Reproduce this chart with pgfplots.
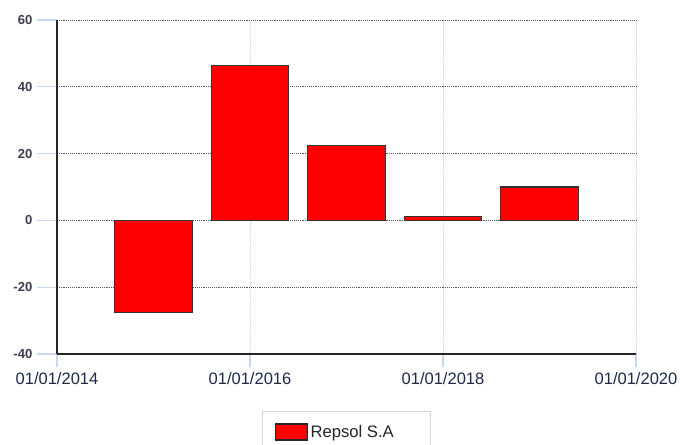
\documentclass[border=0pt]{standalone}
\usepackage{fontspec}
\setmainfont{Liberation Sans}
\usepackage{pgfplots}
\pgfplotsset{compat=1.18}
\definecolor{tickblue}{RGB}{200,216,240}
\definecolor{xlab}{RGB}{30,40,72}
\definecolor{ylab}{RGB}{60,60,82}
\definecolor{hgrid}{RGB}{90,90,90}
\definecolor{legborder}{RGB}{215,215,215}
\begin{document}
\begin{tikzpicture}
\begin{axis}[
  name=ax,
  at={(0,0)}, anchor=south west,
  scale only axis,
  width=434.25pt, height=250.5pt,
  xmin=2014, xmax=2020,
  ymin=-40, ymax=60,
  xtick={2014,2016,2018,2020},
  xticklabels={01/01/2014,01/01/2016,01/01/2018,01/01/2020},
  ytick={-40,-20,0,20,40,60},
  yticklabels={-40,-20,0,20,40,60},
  axis x line*=bottom, axis y line*=left,
  axis line style={line width=0.9pt, draw=black!85},
  tick align=outside,
  major tick length=15pt,
  x tick style={draw=tickblue, line width=0.8pt, /pgfplots/major tick length=9.75pt},
  y tick style={draw=tickblue, line width=0.8pt},
  xmajorgrids, ymajorgrids,
  x grid style={draw=tickblue, densely dotted, line width=0.6pt},
  y grid style={draw=hgrid, densely dotted, line width=0.6pt},
  xticklabel style={font=\fontsize{12.4pt}{14pt}\selectfont, text=xlab, yshift=4.5pt},
  yticklabel style={font=\fontsize{9.8pt}{11pt}\selectfont\bfseries, text=ylab},
  legend style={at={(0.4991,-0.2335)}, anchor=center, draw=legborder,
    inner xsep=9.5pt, inner ysep=8pt,
    font=\fontsize{12.5pt}{14pt}\selectfont, text=black!85},
  clip=false,
]
\addplot[ybar, bar width=0.8, fill=red, draw=black!80, line width=0.8pt,
  legend image code/.code={\draw[fill=red, draw=black!85, line width=0.8pt] (0pt,-6pt) rectangle (24pt,6pt);}]
  coordinates {(2015,-27.7) (2016,46.5) (2017,22.5) (2018,1.1) (2019,10.0)};
\addlegendentry{\makebox[78pt][l]{Repsol S.A}}
\end{axis}
\pgfresetboundingbox
\path[use as bounding box] (-42.75pt,-67.5pt) rectangle (467.25pt,265.5pt);
\end{tikzpicture}
\end{document}
